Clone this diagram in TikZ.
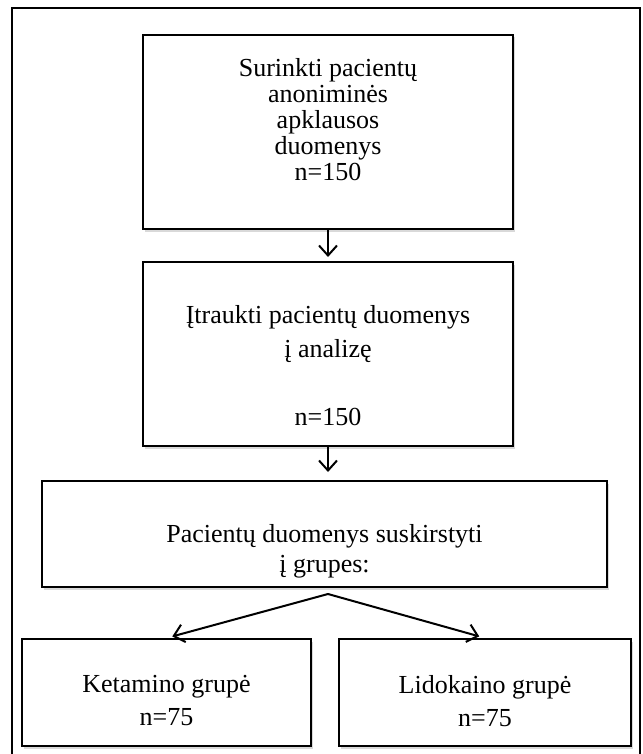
\documentclass[tikz,border=0pt]{standalone}
\usepackage{fontspec}
\setmainfont{Liberation Serif}
\usetikzlibrary{arrows.meta,shadows}

\begin{document}
\begin{tikzpicture}[x=1pt, y=-1pt,
  stage/.style={draw, line width=2pt, fill=white, inner sep=0pt, drop shadow={shadow xshift=2pt, shadow yshift=-2.5pt, opacity=0.3}},
  caption/.style={align=center, inner sep=0pt},
  flow/.style={line width=2pt, -{Straight Barb[length=10pt, width=18pt, line width=2pt]}}]
%	\draw[help lines] (0,0) grid (642,754);
	\useasboundingbox (0,0) rectangle (642,754);
	\draw[line width=2pt] (12,8) rectangle (640,758);
	\node[stage, minimum width=370pt, minimum height=194pt] (collect) at (328,132) {};
	\node[stage, minimum width=370pt, minimum height=184pt] (include) at (328,354) {};
	\node[stage, minimum width=565pt, minimum height=106pt] (groups) at (324.5,534) {};
	\node[stage, minimum width=289pt, minimum height=107pt] (ketamine) at (166.5,692.5) {};
	\node[stage, minimum width=292pt, minimum height=107pt] (lidocaine) at (485,692.5) {};
	\node[caption, font=\fontsize{26}{26}\selectfont] (collect-text) at (328,120) {Surinkti pacientų\\anoniminės\\apklausos\\duomenys\\n=150};
	\node[caption, font=\fontsize{26}{34}\selectfont] (include-text) at (328,366) {Įtraukti pacientų duomenys\\į analizę\\[34pt]n=150};
	\node[caption, font=\fontsize{26}{30}\selectfont] (groups-text) at (324.5,551) {Pacientų duomenys suskirstyti\\į grupes:};
	\node[caption, font=\fontsize{26}{33}\selectfont] (ketamine-text) at (166.5,701) {Ketamino grupė\\n=75};
	\node[caption, font=\fontsize{26}{33}\selectfont] (lidocaine-text) at (485,701) {Lidokaino grupė\\n=75};
	\coordinate (split) at (328,594);
	\draw[flow, shorten >=4pt] (collect.south) -- (include.north);
	\draw[flow, shorten >=8pt] (include.south) -- (include.south |- groups.north);
	\draw[flow, shorten >=6pt] (split) -- (ketamine.north);
	\draw[flow, shorten >=6pt] (split) -- (lidocaine.north);
\end{tikzpicture}
\end{document}
